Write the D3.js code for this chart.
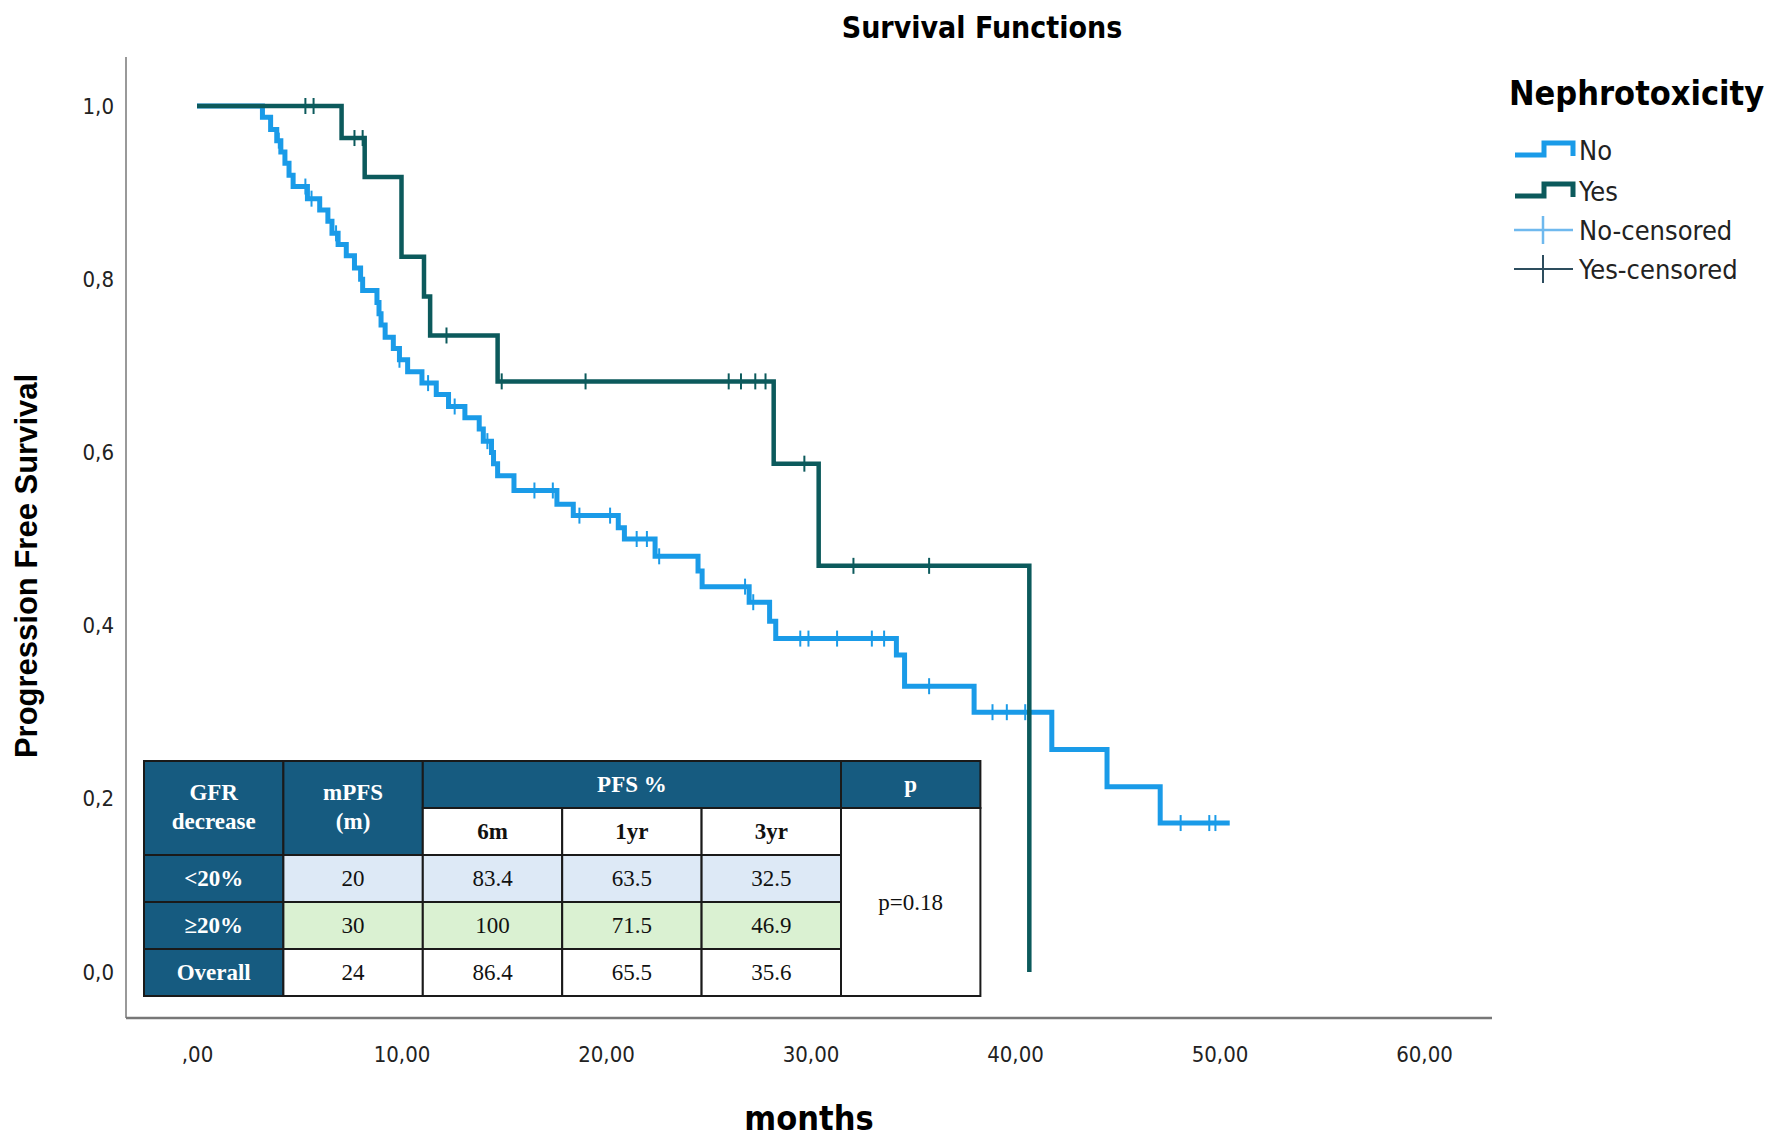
<!DOCTYPE html>
<html>
<head>
<meta charset="UTF-8" />
<style>
  body { margin: 0; background: #fff; }
  svg { display: block; }
  .tick text { font-family: 'DejaVu Sans Condensed', 'DejaVu Sans', sans-serif; font-size: 22px; fill: #222; }
</style>
</head>
<body>
<svg id="chart" width="1786" height="1140"></svg>
<script src="https://d3js.org/d3.v7.min.js"></script>
<script>
// Kaplan-Meier steps: [time, survival after drop]
const noSteps = [[3.2,0.987],[3.6,0.973],[3.9,0.96],[4.1,0.947],[4.3,0.934],[4.5,0.92],[4.7,0.907],
  [5.4,0.893],[6.0,0.88],[6.4,0.867],[6.6,0.853],[6.9,0.84],[7.3,0.827],[7.7,0.813],[8.0,0.8],[8.1,0.787],
  [8.8,0.773],[8.9,0.76],[9.0,0.747],[9.2,0.733],[9.6,0.72],[9.9,0.707],[10.3,0.693],[11.0,0.68],
  [11.7,0.667],[12.3,0.653],[13.1,0.64],[13.8,0.627],[14.0,0.613],[14.4,0.6],[14.5,0.587],[14.7,0.573],
  [15.5,0.556],[17.6,0.54],[18.4,0.527],[20.6,0.513],[20.9,0.5],[22.4,0.48],[24.5,0.463],[24.7,0.445],
  [27.0,0.427],[28.0,0.405],[28.3,0.385],[34.2,0.366],[34.6,0.33],[38.0,0.3],[41.8,0.257],[44.5,0.214],[47.1,0.172]];
const noEnd = 50.5;
const noCensored = [4.0,5.3,5.6,6.8,9.9,11.3,12.6,14.2,16.5,17.4,18.7,20.2,21.5,22.0,22.6,26.8,27.2,
  29.5,29.9,31.3,33.0,33.6,35.8,38.9,39.6,40.5,48.1,49.5,49.8];
const yesSteps = [[7.07,0.963],[8.2,0.918],[10.0,0.826],[11.1,0.78],[11.4,0.735],[14.7,0.682],
  [28.2,0.587],[30.4,0.469],[40.7,0.0]];
const yesEnd = 40.7;
const yesCensored = [5.3,5.7,7.7,8.1,12.2,14.9,19.0,26.0,26.6,27.3,27.8,29.7,32.1,35.8];

const xTicks = [0,10,20,30,40,50,60];
const yTicks = [0,0.2,0.4,0.6,0.8,1.0];

const tableHead = ["GFR decrease","mPFS (m)","6m","1yr","3yr","p"];
const tableRows = [
  ["<20%","20","83.4","63.5","32.5"],
  ["\u226520%","30","100","71.5","46.9"],
  ["Overall","24","86.4","65.5","35.6"]
];
const pValue = "p=0.18";

const colNo = "#1a9be8", colYes = "#0c5a5c";
const svg = d3.select("#chart");
const x = d3.scaleLinear().domain([0,60]).range([197,1424]);
const y = d3.scaleLinear().domain([0,1]).range([972,106]);

// axes lines
svg.append("line").attr("x1",126).attr("x2",126).attr("y1",57).attr("y2",1018).attr("stroke","#777").attr("stroke-width",1.5);
svg.append("line").attr("x1",126).attr("x2",1492).attr("y1",1018).attr("y2",1018).attr("stroke","#777").attr("stroke-width",2.5);

const fmtX = d => d === 0 ? ",00" : d3.format(".2f")(d).replace(".", ",");
const fmtY = d => d3.format(".1f")(d).replace(".", ",");
svg.append("g").attr("transform","translate(0,1018)")
  .call(d3.axisBottom(x).tickValues(xTicks).tickFormat(fmtX).tickSize(0).tickPadding(28))
  .call(g => g.select(".domain").remove());
svg.append("g").attr("transform","translate(126,0)")
  .call(d3.axisLeft(y).tickValues(yTicks).tickFormat(fmtY).tickSize(0).tickPadding(12))
  .call(g => g.select(".domain").remove());

// KM curves
function kmPath(steps, end) {
  const pts = [[0,1]];
  let s = 1;
  steps.forEach(([t,v]) => { pts.push([t,s]); pts.push([t,v]); s = v; });
  if (end > steps[steps.length-1][0]) pts.push([end,s]);
  return d3.line().x(d => x(d[0])).y(d => y(d[1]))(pts);
}
function survAt(steps, t) {
  let s = 1;
  steps.forEach(([ti,v]) => { if (ti <= t) s = v; });
  return s;
}
svg.append("path").attr("d", kmPath(noSteps, noEnd)).attr("fill","none").attr("stroke",colNo).attr("stroke-width",5);
svg.selectAll(".cno").data(noCensored).join("line")
  .attr("x1",d=>x(d)).attr("x2",d=>x(d))
  .attr("y1",d=>y(survAt(noSteps,d))-8).attr("y2",d=>y(survAt(noSteps,d))+8)
  .attr("stroke",colNo).attr("stroke-width",2);
svg.append("path").attr("d", kmPath(yesSteps, yesEnd)).attr("fill","none").attr("stroke",colYes).attr("stroke-width",4.5);
svg.selectAll(".cyes").data(yesCensored).join("line")
  .attr("x1",d=>x(d)).attr("x2",d=>x(d))
  .attr("y1",d=>y(survAt(yesSteps,d))-8).attr("y2",d=>y(survAt(yesSteps,d))+8)
  .attr("stroke",colYes).attr("stroke-width",2);

// titles
svg.append("text").attr("x",982).attr("y",38).attr("text-anchor","middle")
  .style("font","bold 30px 'DejaVu Sans Condensed', sans-serif").text("Survival Functions");
svg.append("text").attr("x",809).attr("y",1130).attr("text-anchor","middle")
  .style("font","bold 34px 'DejaVu Sans Condensed', sans-serif").text("months");
svg.append("text").attr("transform","translate(37,566) rotate(-90)").attr("text-anchor","middle")
  .style("font","bold 31px 'Liberation Sans', sans-serif").text("Progression Free Survival");

// legend
const lg = svg.append("g");
lg.append("text").attr("x",1509).attr("y",105).style("font","bold 34px 'DejaVu Sans Condensed', sans-serif").text("Nephrotoxicity");
const legItems = [
  {label:"No", color:colNo, type:"step", w:5, yy:150},
  {label:"Yes", color:colYes, type:"step", w:5, yy:191},
  {label:"No-censored", color:"#6fb9ee", type:"cross", w:2.5, yy:230},
  {label:"Yes-censored", color:"#2d4d5e", type:"cross", w:2, yy:269}
];
legItems.forEach(it => {
  if (it.type === "step") {
    lg.append("path").attr("d",`M1515,${it.yy+5}H1544V${it.yy-7}H1573V${it.yy+6}`)
      .attr("fill","none").attr("stroke",it.color).attr("stroke-width",it.w);
  } else {
    lg.append("line").attr("x1",1514).attr("x2",1573).attr("y1",it.yy).attr("y2",it.yy).attr("stroke",it.color).attr("stroke-width",it.w);
    lg.append("line").attr("x1",1543).attr("x2",1543).attr("y1",it.yy-14).attr("y2",it.yy+14).attr("stroke",it.color).attr("stroke-width",it.w);
  }
  lg.append("text").attr("x",1579).attr("y",it.yy+10).style("font","27px 'DejaVu Sans Condensed', sans-serif")
    .attr("fill","#222").text(it.label);
});

// table
const tx0 = 144, cw = 139.4, rh = 47, ty0 = 761;
const dark = "#165b80", rowFill = ["#dde9f6","#daf1d2","#ffffff"];
const tg = svg.append("g").style("font-family","'Liberation Serif', 'Times New Roman', serif");
function cell(c, r, wc, hr, fill) {
  tg.append("rect").attr("x",tx0+c*cw).attr("y",ty0+r*rh).attr("width",wc*cw).attr("height",hr*rh)
    .attr("fill",fill).attr("stroke","#1a1a1a").attr("stroke-width",2);
}
function txt(cx, cy, s, color, bold) {
  tg.append("text").attr("x",cx).attr("y",cy).attr("text-anchor","middle").attr("dominant-baseline","central")
    .attr("fill",color).style("font-size","23px").style("font-weight",bold?"bold":"normal").text(s);
}
cell(0,0,1,2,dark); cell(1,0,1,2,dark); cell(2,0,3,1,dark); cell(5,0,1,1,dark);
const [h0, h1] = [tableHead[0].split(" "), tableHead[1].split(" ")];
txt(tx0+cw*0.5, ty0+rh*0.68, h0[0], "#fff", true); txt(tx0+cw*0.5, ty0+rh*1.28, h0[1], "#fff", true);
txt(tx0+cw*1.5, ty0+rh*0.68, h1[0], "#fff", true); txt(tx0+cw*1.5, ty0+rh*1.28, h1[1], "#fff", true);
txt(tx0+cw*3.5, ty0+rh*0.5, "PFS %", "#fff", true);
txt(tx0+cw*5.5, ty0+rh*0.5, tableHead[5], "#fff", true);
[2,3,4].forEach(c => { cell(c,1,1,1,"#fff"); txt(tx0+cw*(c+0.5), ty0+rh*1.5, tableHead[c], "#111", true); });
cell(5,1,1,4,"#fff");
txt(tx0+cw*5.5, ty0+rh*3.0, pValue, "#111", false);
tableRows.forEach((row, i) => {
  row.forEach((v, c) => {
    cell(c, i+2, 1, 1, c === 0 ? dark : rowFill[i]);
    txt(tx0+cw*(c+0.5), ty0+rh*(i+2.5), v, c === 0 ? "#fff" : "#111", c === 0);
  });
});
</script>
</body>
</html>
